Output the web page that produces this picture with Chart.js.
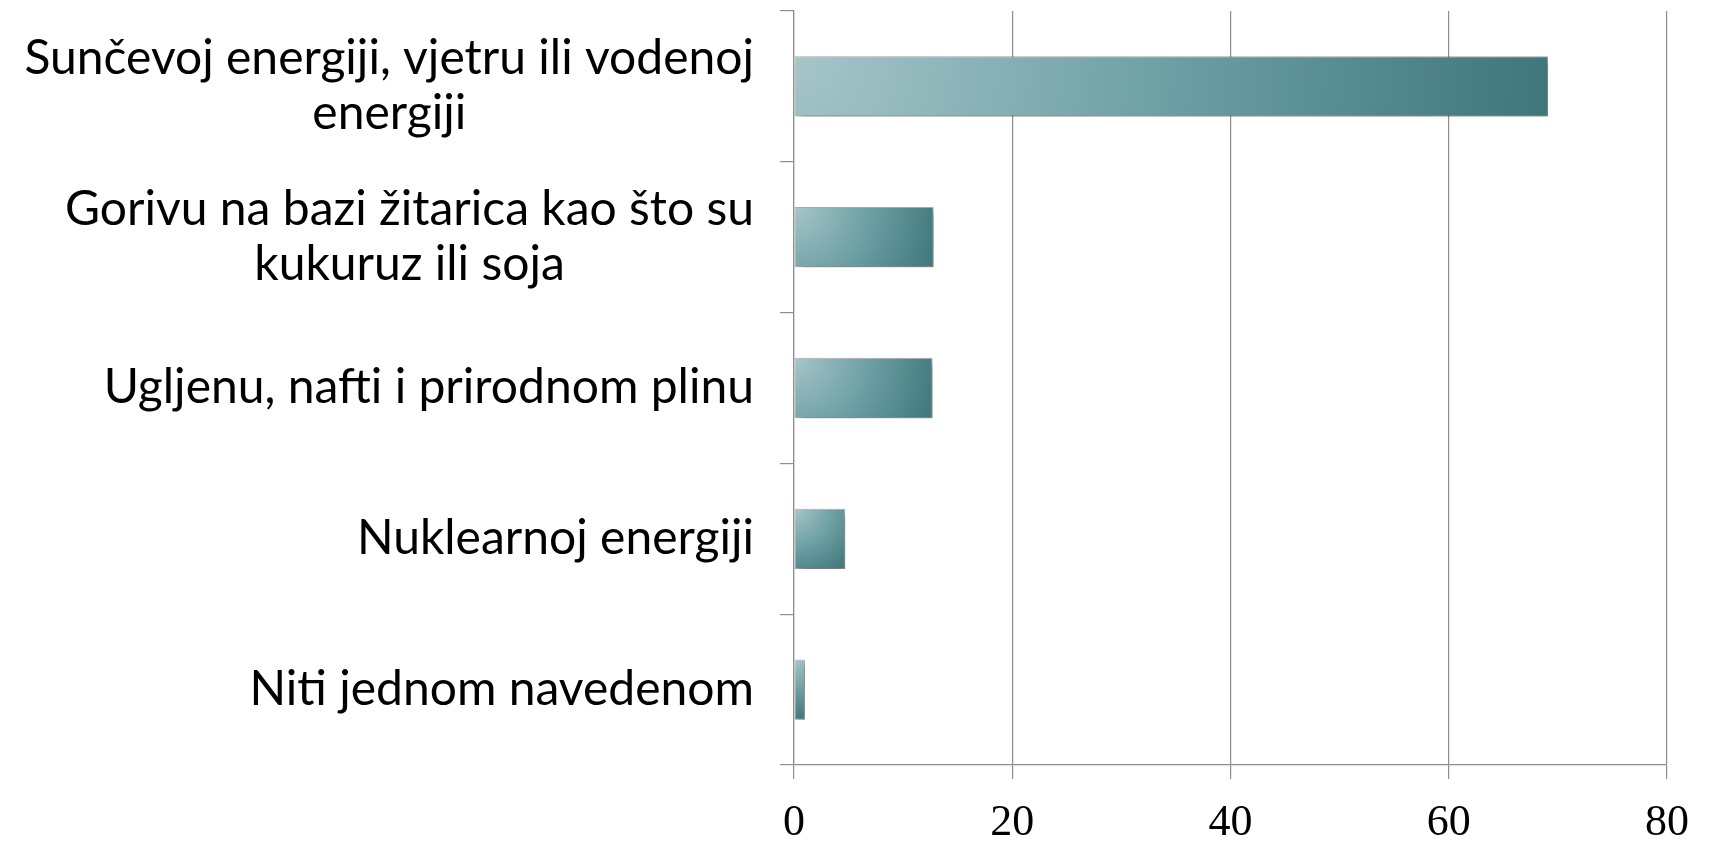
<!DOCTYPE html>
<html>
<head>
<meta charset="utf-8">
<script src="https://cdn.jsdelivr.net/npm/chart.js@4/dist/chart.umd.min.js"></script>
<style>
  html, body { margin: 0; padding: 0; background: #ffffff; overflow: hidden; }
  #wrap { width: 1709px; height: 842px; position: relative; }
  #c { display: block; width: 1709px; height: 842px; }
</style>
</head>
<body>
<div id="wrap"><canvas id="c" width="1709" height="842"></canvas></div>
<script>
// ---- data ----
const categories = [
  ["Sunčevoj energiji, vjetru ili vodenoj", "energiji"],
  ["Gorivu na bazi žitarica kao što su", "kukuruz ili soja"],
  "Ugljenu, nafti i prirodnom plinu",
  "Nuklearnoj energiji",
  "Niti jednom navedenom"
];
const values = [69.1, 12.8, 12.7, 4.7, 1.0];
const xTickValues = [0, 20, 40, 60, 80];

// ---- styling plugins ----
const barStyle = {
  id: 'barStyle',
  beforeDatasetDraw(chart, args) {
    const ctx = chart.ctx;
    args.meta.data.forEach(el => {
      const left = Math.min(el.base, el.x), right = Math.max(el.base, el.x);
      const top = el.y - el.height / 2, bottom = el.y + el.height / 2;
      const r = Math.hypot(right - left, bottom - top);
      const g = ctx.createRadialGradient(left, top, 0, left, top, r);
      g.addColorStop(0, '#a6c5c9');
      g.addColorStop(0.5, '#6c9fa3');
      g.addColorStop(1, '#3e7679');
      el.options = Object.assign({}, el.options, { backgroundColor: g });
    });
    ctx.save();
    ctx.shadowColor = 'rgba(0,0,0,0.38)';
    ctx.shadowBlur = 7;
    ctx.shadowOffsetX = 3;
    ctx.shadowOffsetY = 4;
  },
  afterDatasetDraw(chart) { chart.ctx.restore(); }
};

// center the lines of multi-line labels within their block (block stays right-aligned)
const labelAlign = {
  id: 'labelAlign',
  beforeDraw(chart) {
    const scale = chart.scales.y;
    const items = scale.getLabelItems(chart.chartArea);
    const ctx = chart.ctx;
    items.forEach(item => {
      if (Array.isArray(item.label) && !item._centered) {
        ctx.save();
        ctx.font = item.font.string;
        const w = Math.max(...item.label.map(s => ctx.measureText(s).width));
        ctx.restore();
        item.options.textAlign = 'center';
        item.options.translation = [item.options.translation[0] - w / 2, item.options.translation[1]];
        item._centered = true;
      }
    });
  }
};

const gridColor = '#8e8e8e';

new Chart(document.getElementById('c'), {
  type: 'bar',
  data: {
    labels: categories,
    datasets: [{
      data: values,
      backgroundColor: () => '#6b9fa3',
      borderColor: 'rgba(110,110,110,0.55)',
      borderWidth: 1,
      borderSkipped: false,
      barPercentage: 0.4,
      categoryPercentage: 1.0
    }]
  },
  plugins: [barStyle, labelAlign],
  options: {
    indexAxis: 'y',
    responsive: false,
    maintainAspectRatio: false,
    animation: false,
    devicePixelRatio: 1,
    layout: { padding: { top: 11, right: 42, left: 0, bottom: 0 } },
    plugins: { legend: { display: false }, tooltip: { enabled: false } },
    scales: {
      y: {
        grid: { drawOnChartArea: false, drawTicks: true, tickLength: 14, color: gridColor, offset: true, lineWidth: 1.2 },
        border: { color: gridColor, width: 1.2 },
        ticks: {
          color: '#000000',
          font: { family: 'Lato', size: 48, lineHeight: 1.15 },
          padding: 26,
          crossAlign: 'near'
        },
        afterFit(s) { s.width = 794; s.paddingTop = 0; s.paddingBottom = 0; }
      },
      x: {
        min: 0, max: 80,
        afterBuildTicks(s) { s.ticks = xTickValues.map(v => ({ value: v })); },
        grid: { color: gridColor, tickLength: 14, drawTicks: true, lineWidth: 1.2 },
        border: { color: gridColor, width: 1.2 },
        ticks: {
          color: '#000000',
          font: { family: 'Liberation Serif', size: 44 },
          padding: 18,
          maxRotation: 0
        },
        afterFit(s) { s.height = 77; s.paddingLeft = 0; s.paddingRight = 0; }
      }
    }
  }
});
</script>
</body>
</html>
